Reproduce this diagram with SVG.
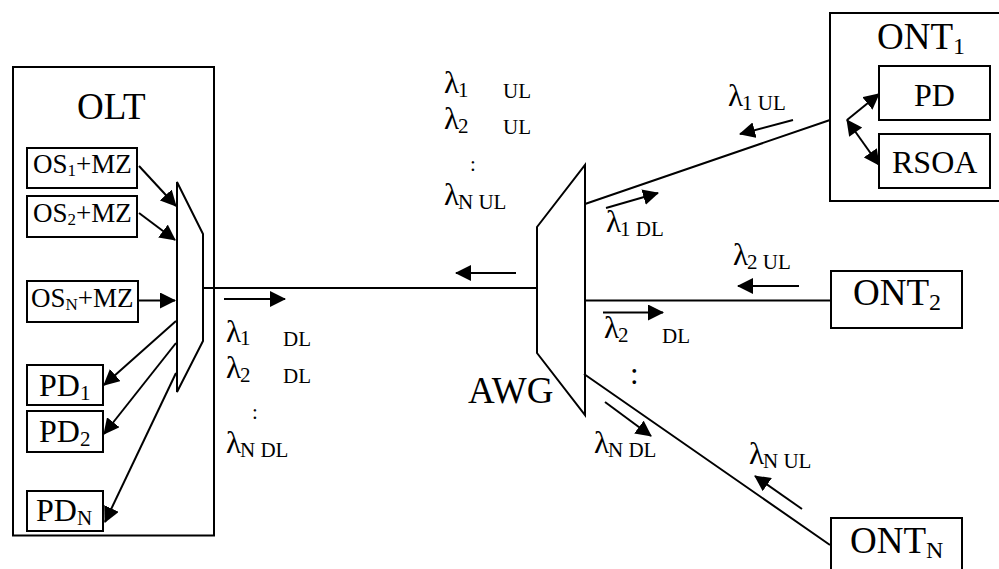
<svg xmlns="http://www.w3.org/2000/svg" width="999" height="569" viewBox="0 0 999 569">
<style>
text{font-family:"Liberation Serif","Times New Roman",serif;fill:#000}
.b{fill:#fff;stroke:#000;stroke-width:2}
.f{fill:none;stroke:#000;stroke-width:2}
.l{fill:none;stroke:#000;stroke-width:2}
.a{fill:none;stroke:#000;stroke-width:2;marker-end:url(#h)}
.d{fill:none;stroke:#000;stroke-width:2;marker-start:url(#h2);marker-end:url(#h)}
.t{font-size:37px}.os{font-size:27px}.p{font-size:32px}
.g{font-size:31px}.u{font-size:21px}
</style>
<defs>
<marker id="h" markerUnits="userSpaceOnUse" markerWidth="18" markerHeight="16" refX="15" refY="8" orient="auto"><path d="M0 0L16 8L0 16Z" fill="#000"/></marker>
<marker id="h2" markerUnits="userSpaceOnUse" markerWidth="18" markerHeight="16" refX="1" refY="8" orient="auto"><path d="M16 0L0 8L16 16Z" fill="#000"/></marker>
</defs>
<g id="OLT"><rect class="f" x="13" y="67" width="201" height="468.500"/><text class="t" x="77" y="119">OLT</text></g>
<g id="OS1"><rect class="b" x="27" y="148" width="110" height="40"/><text x="33" y="173" class="os">OS<tspan font-size="17" dy="3">1</tspan><tspan dy="-3">+MZ</tspan></text></g>
<g id="OS2"><rect class="b" x="27" y="196" width="110" height="41"/><text x="33" y="222" class="os">OS<tspan font-size="17" dy="3">2</tspan><tspan dy="-3">+MZ</tspan></text></g>
<g id="OSN"><rect class="b" x="27" y="281" width="111" height="41"/><text x="31" y="307" class="os">OS<tspan font-size="17" dy="3">N</tspan><tspan dy="-3">+MZ</tspan></text></g>
<g id="PD1"><rect class="b" x="27" y="365" width="76" height="40"/><text x="39" y="396" class="p">PD<tspan font-size="21" dy="4">1</tspan></text></g>
<g id="PD2"><rect class="b" x="27" y="411" width="76" height="41"/><text x="39" y="442" class="p">PD<tspan font-size="21" dy="4">2</tspan></text></g>
<g id="PDN"><rect class="b" x="27" y="491" width="76" height="40"/><text x="36" y="521" class="p">PD<tspan font-size="21" dy="4">N</tspan></text></g>
<g id="MUX"><path class="b" d="M177 182L203 234V341L177 392Z"/></g>
<g id="AWG"><path class="b" d="M537 227L585 165V415L537 353Z"/><text class="t" x="468" y="403">AWG</text></g>
<g id="ONT1"><rect class="b" x="830" y="13" width="175" height="188"/><text class="t" x="877" y="49">ONT<tspan font-size="24" dy="5">1</tspan></text></g>
<g id="PD"><rect class="b" x="879" y="66" width="111" height="54"/><text class="p" x="914" y="106">PD</text></g>
<g id="RSOA"><rect class="b" x="879" y="134" width="111" height="54"/><text class="p" x="892" y="173">RSOA</text></g>
<g id="ONT2"><rect class="b" x="831" y="271" width="131" height="57"/><text class="t" x="853" y="305">ONT<tspan font-size="24" dy="5">2</tspan></text></g>
<g id="ONTN"><rect class="b" x="831" y="518" width="131" height="60"/><text class="t" x="850" y="553">ONT<tspan font-size="24" dy="5">N</tspan></text></g>
<g id="connectors">
<path class="l" d="M203 288H537M585 204L830 120M585 300.500H831M584 374L830 545"/>
<path class="a" d="M139 166L176 206"/>
<path class="a" d="M139 213L175 240"/>
<path class="a" d="M138 300.500H175"/>
<path class="a" d="M176 321L104 385"/>
<path class="a" d="M176 343L104 434"/>
<path class="a" d="M176 373L105 522"/>
<path class="a" d="M224 299H285"/>
<path class="a" d="M516 273H456"/>
<path class="a" d="M606 208L658 193"/>
<path class="a" d="M603 312.500H663"/>
<path class="a" d="M605 402L651 436"/>
<path class="a" d="M793 120L740 134"/>
<path class="a" d="M799 286H738"/>
<path class="a" d="M802 509L755 476"/>
<path class="a" d="M847 120L879 94"/>
<path class="d" d="M847 120L879 165"/>
</g>
<g id="labels">
<text x="226" y="342" class="g">λ<tspan class="u" dx="-1" dy="3">1</tspan></text><text x="283" y="346" class="u">DL</text>
<text x="226" y="378" class="g">λ<tspan class="u" dx="-1" dy="4">2</tspan></text><text x="283" y="383" class="u">DL</text>
<text x="252" y="419" class="u">:</text>
<text x="226" y="453" class="g">λ<tspan class="u" dx="-1" dy="4">N DL</tspan></text>
<text x="444" y="93" class="g">λ<tspan class="u" dx="-1" dy="4">1</tspan></text><text x="503" y="98" class="u">UL</text>
<text x="444" y="129" class="g">λ<tspan class="u" dx="-1" dy="4">2</tspan></text><text x="503" y="134" class="u">UL</text>
<text x="470" y="171" class="u">:</text>
<text x="444" y="205" class="g">λ<tspan class="u" dx="-1" dy="4">N UL</tspan></text>
<text x="606" y="232" class="g">λ<tspan class="u" dx="-1" dy="4">1 DL</tspan></text>
<text x="604" y="338" class="g">λ<tspan class="u" dx="-1" dy="4">2</tspan></text><text x="662" y="343" class="u">DL</text>
<text x="594" y="453" class="g">λ<tspan class="u" dx="-1" dy="4">N DL</tspan></text>
<text x="728" y="106" class="g">λ<tspan class="u" dx="-1" dy="4">1 UL</tspan></text>
<text x="733" y="265" class="g">λ<tspan class="u" dx="-1" dy="4">2 UL</tspan></text>
<text x="749" y="464" class="g">λ<tspan class="u" dx="-1" dy="4">N UL</tspan></text>
<text x="630" y="384" style="font-size:31px">:</text>
</g>
</svg>
